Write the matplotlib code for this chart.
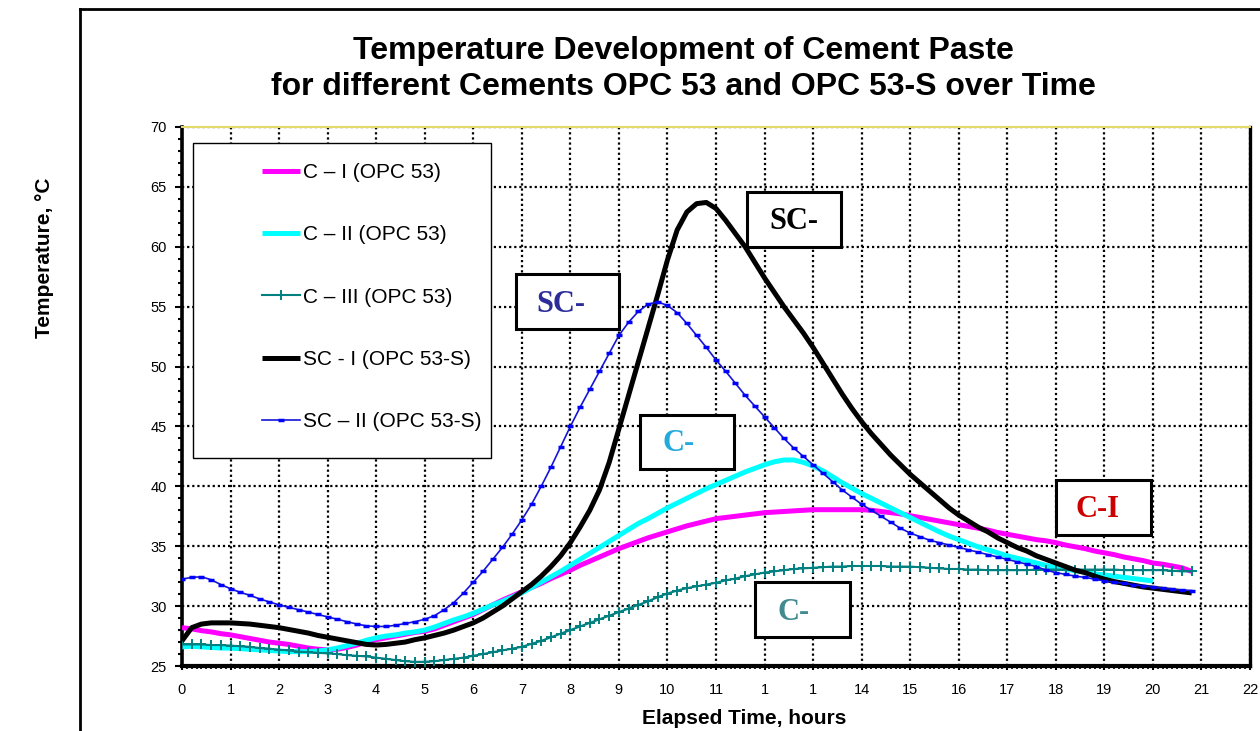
import numpy as np
import matplotlib
matplotlib.use("Agg")
import matplotlib.pyplot as plt
from matplotlib.patches import Rectangle
from matplotlib.lines import Line2D
from matplotlib.ticker import MultipleLocator

# ---------------- data ----------------
hours = np.round(np.arange(0, 20.81, 0.2), 1)  # sampling times (h)

c1_opc53 = [28.2, 28.1, 27.95, 27.85, 27.7, 27.6, 27.45, 27.3, 27.15, 27.0,
            26.9, 26.8, 26.65, 26.5, 26.4, 26.35, 26.4, 26.55, 26.75, 27.0,
            27.2, 27.35, 27.5, 27.65, 27.8, 27.9, 28.1, 28.4, 28.7, 29.0,
            29.3, 29.7, 30.1, 30.5, 30.85, 31.2, 31.55, 31.9, 32.3, 32.65,
            33.0, 33.4, 33.75, 34.1, 34.45, 34.8, 35.1, 35.4, 35.7, 35.95,
            36.2, 36.45, 36.7, 36.9, 37.1, 37.3, 37.4, 37.5, 37.6, 37.7,
            37.8, 37.85, 37.9, 37.95, 38.0, 38.05, 38.05, 38.05, 38.05, 38.05,
            38.05, 38.0, 37.9, 37.8, 37.7, 37.55, 37.4, 37.25, 37.1, 36.95,
            36.8, 36.65, 36.5, 36.35, 36.15, 36.0, 35.85, 35.7, 35.55, 35.45,
            35.3, 35.1, 34.95, 34.8, 34.6, 34.45, 34.3, 34.1, 33.95, 33.8,
            33.6, 33.5, 33.35, 33.2, 32.9]

c2_opc53 = [26.6, 26.65, 26.6, 26.55, 26.5, 26.5, 26.45, 26.4, 26.35, 26.3,
            26.25, 26.2, 26.2, 26.2, 26.25, 26.35, 26.5, 26.7, 26.9, 27.15,
            27.35, 27.5, 27.6, 27.75, 27.85, 28.0, 28.25, 28.55, 28.85, 29.1,
            29.4, 29.75, 30.1, 30.4, 30.75, 31.1, 31.55, 32.0, 32.45, 32.9,
            33.4, 33.9, 34.4, 34.9, 35.4, 35.9, 36.4, 36.9, 37.3, 37.75,
            38.2, 38.6, 39.0, 39.4, 39.8, 40.15, 40.5, 40.85, 41.2, 41.5,
            41.8, 42.05, 42.2, 42.2, 42.0, 41.7, 41.3, 40.8, 40.3, 39.85,
            39.4, 39.0, 38.6, 38.2, 37.8, 37.4, 37.0, 36.6, 36.2, 35.85,
            35.55, 35.25, 34.95, 34.7, 34.45, 34.2, 34.0, 33.8, 33.6, 33.4,
            33.2, 33.1, 32.95, 32.85, 32.7, 32.6, 32.5, 32.4, 32.3, 32.2,
            32.1]

c3_opc53 = [26.8, 26.8, 26.8, 26.75, 26.75, 26.7, 26.65, 26.6, 26.5, 26.45,
            26.35, 26.3, 26.2, 26.15, 26.1, 26.05, 26.0, 25.9, 25.85, 25.8,
            25.7, 25.6, 25.5, 25.4, 25.35, 25.35, 25.4, 25.5, 25.6, 25.7,
            25.85, 26.0, 26.15, 26.3, 26.45, 26.6, 26.85, 27.1, 27.4, 27.7,
            28.0, 28.3, 28.6, 28.9, 29.2, 29.5, 29.8, 30.1, 30.4, 30.75,
            31.05, 31.3, 31.5, 31.65, 31.8, 31.95, 32.15, 32.3, 32.5, 32.65,
            32.8, 32.9, 33.0, 33.1, 33.15, 33.2, 33.25, 33.3, 33.3, 33.35,
            33.35, 33.35, 33.35, 33.3, 33.3, 33.3, 33.25, 33.2, 33.15, 33.1,
            33.1, 33.05, 33.05, 33.0, 33.0, 33.0, 33.0, 33.0, 33.05, 33.05,
            33.05, 33.05, 33.05, 33.05, 33.05, 33.05, 33.05, 33.0, 33.0, 33.0,
            33.0, 33.0, 32.95, 32.9, 32.9]

sc1_opc53s = [27.1, 28.2, 28.5, 28.6, 28.6, 28.6, 28.55, 28.5, 28.4, 28.3,
              28.2, 28.05, 27.9, 27.75, 27.55, 27.4, 27.25, 27.1, 26.95, 26.8,
              26.75, 26.8, 26.9, 27.0, 27.2, 27.35, 27.55, 27.75, 28.0, 28.3,
              28.6, 29.0, 29.5, 30.0, 30.6, 31.2, 31.8, 32.5, 33.3, 34.2,
              35.3, 36.6, 38.0, 39.7, 42.0, 44.8, 47.6, 50.4, 53.2, 56.0,
              58.9, 61.4, 62.9, 63.6, 63.7, 63.2, 62.2, 61.1, 60.0, 58.7,
              57.4, 56.2, 55.0, 53.9, 52.8, 51.6, 50.3, 49.0, 47.7, 46.5,
              45.4, 44.4, 43.5, 42.6, 41.8, 41.0, 40.3, 39.6, 38.9, 38.2,
              37.6, 37.1, 36.6, 36.2, 35.7, 35.3, 34.9, 34.6, 34.2, 33.9,
              33.6, 33.3, 33.0, 32.8, 32.5, 32.25, 32.05, 31.9, 31.75, 31.6,
              31.5, 31.4, 31.3, 31.2, 31.1]

sc2_opc53s = [32.25, 32.4, 32.45, 32.2, 31.8, 31.45, 31.15, 30.9, 30.6, 30.35,
              30.1, 29.9, 29.7, 29.5, 29.3, 29.1, 28.9, 28.7, 28.5, 28.35,
              28.3, 28.3, 28.4, 28.55, 28.7, 28.9, 29.2, 29.7, 30.3, 31.1,
              32.0, 32.9, 33.9, 34.9, 36.0, 37.2, 38.5, 40.0, 41.6, 43.3,
              45.0, 46.6, 48.1, 49.6, 51.1, 52.6, 53.7, 54.6, 55.2, 55.4,
              55.1, 54.5, 53.6, 52.6, 51.6, 50.55, 49.6, 48.6, 47.6, 46.7,
              45.8, 44.9, 44.0, 43.2, 42.5, 41.8, 41.1, 40.4, 39.7, 39.1,
              38.5, 38.0, 37.5, 37.0, 36.5, 36.1, 35.8, 35.5, 35.3, 35.1,
              34.9, 34.7, 34.5, 34.3, 34.1, 33.9, 33.7, 33.5, 33.3, 33.0,
              32.8, 32.65, 32.5, 32.4, 32.25, 32.1, 32.0, 31.9, 31.8, 31.7,
              31.6, 31.5, 31.4, 31.35, 31.3]

series_labels = ["C \u2013 I (OPC 53)", "C \u2013 II (OPC 53)", "C \u2013 III (OPC 53)",
                 "SC - I (OPC 53-S)", "SC \u2013 II (OPC 53-S)"]

x_ticks = list(range(0, 23))
x_tick_labels = ["0", "1", "2", "3", "4", "5", "6", "7", "8", "9", "10", "11",
                 "1", "1", "14", "15", "16", "17", "18", "19", "20", "21", "22"]
y_ticks = [25, 30, 35, 40, 45, 50, 55, 60, 65, 70]

box_labels = ["SC-", "SC-", "C-", "C-I", "C-"]
box_label_colors = ["#000000", "#2d2d9a", "#22aadd", "#cc0000", "#408a90"]
# ---------------------------------------

plt.rcParams['font.family'] = ['Liberation Sans', 'DejaVu Sans']

W, H = 1260, 731
fig = plt.figure(figsize=(W / 100, H / 100), dpi=100)
L, R, T, B = 182, 1250, 127, 666
ax = fig.add_axes([L / W, (H - B) / H, (R - L) / W, (B - T) / H])

ax.set_xlim(0, 22)
ax.set_ylim(25, 70)

l1, = ax.plot(hours[:len(c1_opc53)], c1_opc53, color="#ff00ff", lw=3.6,
              solid_capstyle="butt", zorder=3)
l2, = ax.plot(hours[:len(c2_opc53)], c2_opc53, color="#00ffff", lw=3.6,
              solid_capstyle="butt", zorder=3.1)
l3, = ax.plot(hours[:len(c3_opc53)], c3_opc53, color="#008080", lw=1.5,
              marker="+", ms=7, mew=1.4, zorder=3.2)
l4, = ax.plot(hours[:len(sc1_opc53s)], sc1_opc53s, color="#000000", lw=3.6,
              solid_capstyle="butt", zorder=3.3)
l5, = ax.plot(hours[:len(sc2_opc53s)], sc2_opc53s, color="#1414d8", lw=1.2,
              marker="_", ms=5, mew=2.5, mec="#0000ff", zorder=3.4)

# ticks / grid
ax.set_xticks(x_ticks)
ax.set_xticklabels(x_tick_labels, fontsize=10.5)
ax.set_yticks(y_ticks)
ax.set_yticklabels([str(v) for v in y_ticks], fontsize=10.5)
ax.yaxis.set_minor_locator(MultipleLocator(1))
ax.xaxis.set_minor_locator(MultipleLocator(0.1))
ax.tick_params(axis="y", which="major", direction="out", length=5, width=1.5, pad=6)
ax.tick_params(axis="y", which="minor", direction="out", length=3, width=1.5)
ax.tick_params(axis="x", which="major", direction="out", length=3, width=1.5, pad=9)
ax.tick_params(axis="x", which="minor", direction="out", length=2.5, width=1.2)
ax.grid(True, which="major", color="black", linestyle=(0, (1, 1.3)), linewidth=1.6)
ax.set_axisbelow(True)

for side, lw, col in [("left", 2.6, "black"), ("bottom", 3.0, "black"),
                      ("right", 2.4, "black"), ("top", 1.5, "#e3da6a")]:
    ax.spines[side].set_linewidth(lw)
    ax.spines[side].set_color(col)

# legend frame + legend
ax.add_patch(Rectangle((0.0106, 0.3853), 0.2787, 0.5845, transform=ax.transAxes,
                       facecolor="white", edgecolor="black", lw=1.0, zorder=5))
leg = ax.legend([l1, l2, l3, l4, l5], series_labels, loc="upper left",
                bbox_to_anchor=(0.0749, 0.933), frameon=False, fontsize=15,
                borderpad=0, borderaxespad=0, handlelength=1.83,
                handletextpad=0.15, labelspacing=2.08, numpoints=1)
leg.set_zorder(6)

# annotation boxes (data coords)
boxes = [(11.64, 60.0, 1.94, 4.6, 12.6, 62.1),
         (6.87, 53.14, 2.14, 4.59, 7.81, 55.17),
         (9.43, 41.43, 1.95, 4.53, 10.22, 43.54),
         (18.0, 35.95, 1.97, 4.55, 18.86, 38.05),
         (11.8, 27.45, 1.96, 4.55, 12.6, 29.5)]
for (bx, by, bw, bh, tx, ty), txt, col in zip(boxes, box_labels, box_label_colors):
    ax.add_patch(Rectangle((bx, by), bw, bh, facecolor="white", edgecolor="black",
                           lw=2.2, zorder=7))
    ax.text(tx, ty, txt, color=col, fontsize=22, fontweight="bold",
            family=["Liberation Serif", "DejaVu Serif"], ha="center", va="center",
            zorder=8)

# titles
fig.text(683 / W, 1 - 69 / H,
         "Temperature Development of Cement Paste\nfor different Cements OPC 53 and OPC 53-S over Time",
         ha="center", va="center", fontsize=23, fontweight="bold", linespacing=1.22)
fig.text(744 / W, 1 - 718 / H, "Elapsed Time, hours", ha="center", va="center",
         fontsize=15, fontweight="bold")
fig.text(45 / W, 1 - 258 / H, "Temperature, \u00b0C", ha="center", va="center",
         rotation=90, fontsize=15, fontweight="bold")

# outer chart frame
fig.add_artist(Line2D([80 / W, 80 / W], [0, 1 - 9 / H], transform=fig.transFigure,
                      color="black", lw=2))
fig.add_artist(Line2D([80 / W, 1], [1 - 9 / H, 1 - 9 / H], transform=fig.transFigure,
                      color="black", lw=2))

fig.savefig("out.png", dpi=100)
